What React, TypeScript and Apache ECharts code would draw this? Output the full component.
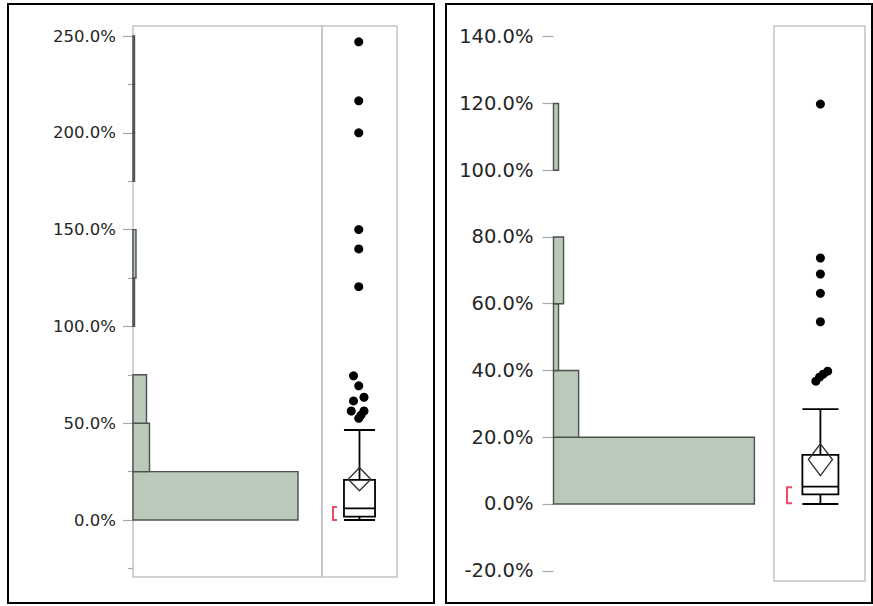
import React, { useEffect, useRef } from 'react';
import * as echarts from 'echarts';

// ---------- data ----------
const LEFT_BIN_EDGES = [0, 25, 50, 75, 100, 125, 150, 175, 200, 225, 250];
const LEFT_COUNTS = [110, 11, 9, 0, 1, 2, 0, 1, 1, 1];
const LEFT_TICKS = [0, 50, 100, 150, 200, 250];
const LEFT_MINOR_TICKS = [-25, 25, 75, 125, 175, 225];
// lower whisker, Q1, median, Q3, upper whisker
const LEFT_QUANTILES = [0, 1.7, 6.0, 20.7, 46.5];
// mean CI low, mean, mean CI high
const LEFT_MEAN_CI = [15.1, 21.1, 27.1];
const LEFT_SHORTEST_HALF = [0, 6.7];
const LEFT_OUTLIERS = [247, 216.5, 200, 150, 140, 120.5, 74.5, 69.3, 63.4, 61.5, 56.3, 56.3, 54.2, 52.5];
const LEFT_JITTER = [0.49, 0.49, 0.49, 0.49, 0.49, 0.49, 0.42, 0.49, 0.56, 0.42, 0.39, 0.56, 0.52, 0.49];

const RIGHT_BIN_EDGES = [0, 20, 40, 60, 80, 100, 120, 140];
const RIGHT_COUNTS = [40, 5, 1, 2, 0, 1, 0];
const RIGHT_TICKS = [-20, 0, 20, 40, 60, 80, 100, 120, 140];
const RIGHT_QUANTILES = [0, 2.9, 5.2, 14.7, 28.4];
const RIGHT_MEAN_CI = [8.5, 13.3, 18.0];
const RIGHT_SHORTEST_HALF = [0.2, 5.0];
const RIGHT_OUTLIERS = [119.8, 73.7, 68.9, 63.1, 54.6, 39.8, 38.9, 38.0, 36.8];
const RIGHT_JITTER = [0.51, 0.51, 0.51, 0.51, 0.51, 0.59, 0.54, 0.5, 0.46];

// ---------- styling constants ----------
const FONT = 'DejaVu Sans';
const LABEL_COLOR = '#262626';
const TICK_COLOR = '#a8a8a8';
const FRAME_GREY = '#c4c4c4';
const BAR_FILL = '#b9c9ba';
const BAR_STROKE = '#4a524b';
const BRACKET_RED = '#ef4a63';

const LEFT_RANGE = [-29.44, 255.17];
const RIGHT_RANGE = [-23.07, 143.2];

const binsData = (edges: number[], counts: number[]) =>
  counts.map((c, i) => [edges[i], edges[i + 1], c]);

const histRender = (_params: any, api: any) => {
  const lo = api.value(0);
  const hi = api.value(1);
  const c = api.value(2);
  if (!c) return { type: 'group', children: [] };
  const a = api.coord([0, lo]);
  const b = api.coord([c, hi]);
  return {
    type: 'rect',
    shape: { x: a[0], y: b[1], width: b[0] - a[0], height: a[1] - b[1] },
    style: { fill: BAR_FILL, stroke: BAR_STROKE, lineWidth: 1.4 },
  };
};

const makeBoxRender = (center: number, half: number, dHalf: number, bracketX: number, bracketW: number) =>
  (_params: any, api: any) => {
    const lw = api.value(0), q1 = api.value(1), med = api.value(2), q3 = api.value(3), hw = api.value(4);
    const mLo = api.value(5), mean = api.value(6), mHi = api.value(7);
    const sLo = api.value(8), sHi = api.value(9);
    const c = (x: number, y: number) => api.coord([x, y]);
    const boxTL = c(center - half, q3);
    const boxBR = c(center + half, q1);
    const black = { stroke: '#000', lineWidth: 1.8, fill: 'none' };
    const hline = (y: number) => {
      const p0 = c(center - half, y);
      const p1 = c(center + half, y);
      return { type: 'line', shape: { x1: p0[0], y1: p0[1], x2: p1[0], y2: p1[1] }, style: black };
    };
    const vline = (y0: number, y1: number) => {
      const p0 = c(center, y0);
      const p1 = c(center, y1);
      return { type: 'line', shape: { x1: p0[0], y1: p0[1], x2: p1[0], y2: p1[1] }, style: black };
    };
    const bLo = c(bracketX, sLo);
    const bHi = c(bracketX, sHi);
    return {
      type: 'group',
      children: [
        vline(q3, hw),
        vline(q1, lw),
        hline(hw),
        hline(lw),
        {
          type: 'rect',
          shape: { x: boxTL[0], y: boxTL[1], width: boxBR[0] - boxTL[0], height: boxBR[1] - boxTL[1] },
          style: black,
        },
        hline(med),
        {
          type: 'polygon',
          shape: {
            points: [c(center, mHi), c(center + dHalf, mean), c(center, mLo), c(center - dHalf, mean)],
          },
          style: { stroke: '#333', lineWidth: 1.4, fill: 'none' },
        },
        {
          type: 'polyline',
          shape: {
            points: [
              [bLo[0] + bracketW, bLo[1]],
              [bLo[0], bLo[1]],
              [bHi[0], bHi[1]],
              [bHi[0] + bracketW, bHi[1]],
            ],
          },
          style: { stroke: BRACKET_RED, lineWidth: 2, fill: 'none' },
        },
      ],
    };
  };

const labelAxis = (gridIndex: number, range: number[], ticks: number[], tickLen: number, margin: number, fontSize: number) => ({
  type: 'value',
  gridIndex,
  position: 'left',
  min: range[0],
  max: range[1],
  axisLine: { show: false },
  splitLine: { show: false },
  axisTick: { show: true, length: tickLen, customValues: ticks, lineStyle: { color: TICK_COLOR, width: 1.2 } },
  axisLabel: {
    show: true,
    customValues: ticks,
    margin,
    fontFamily: FONT,
    fontSize,
    color: LABEL_COLOR,
    formatter: (v: number) => v.toFixed(1) + '%',
  },
});

const hiddenY = (gridIndex: number, range: number[]) => ({
  type: 'value',
  gridIndex,
  min: range[0],
  max: range[1],
  show: false,
  splitLine: { show: false },
});

const hiddenX = (gridIndex: number, max: number) => ({
  type: 'value',
  gridIndex,
  min: 0,
  max,
  show: false,
  splitLine: { show: false },
});

export default function App() {
  const ref = useRef<HTMLDivElement>(null);
  useEffect(() => {
    if (!ref.current) return;
    const chart = echarts.init(ref.current, null, { renderer: 'svg' });
    const gridBase = { outerBoundsMode: 'none', containLabel: false };
    chart.setOption({
      animation: false,
      backgroundColor: '#ffffff',
      textStyle: { fontFamily: FONT },
      grid: [
        { ...gridBase, left: 133, top: 26, width: 189, height: 551, show: true, borderColor: FRAME_GREY, borderWidth: 1.5 },
        { ...gridBase, left: 322, top: 26, width: 75, height: 551, show: true, borderColor: FRAME_GREY, borderWidth: 1.5 },
        { ...gridBase, left: 553.5, top: 26, width: 220.5, height: 555, show: false },
        { ...gridBase, left: 774, top: 26, width: 91, height: 555, show: true, borderColor: FRAME_GREY, borderWidth: 1.5 },
      ],
      xAxis: [hiddenX(0, 126), hiddenX(1, 1), hiddenX(2, 43.9), hiddenX(3, 1)],
      yAxis: [
        labelAxis(0, LEFT_RANGE, LEFT_TICKS, 10, 17, 16.5),
        {
          type: 'value',
          gridIndex: 0,
          position: 'left',
          offset: 0,
          min: LEFT_RANGE[0],
          max: LEFT_RANGE[1],
          axisLine: { show: false },
          splitLine: { show: false },
          axisLabel: { show: false },
          axisTick: { show: true, length: 5, customValues: LEFT_MINOR_TICKS, lineStyle: { color: TICK_COLOR, width: 1.2 } },
        },
        hiddenY(1, LEFT_RANGE),
        labelAxis(2, RIGHT_RANGE, RIGHT_TICKS, 11, 20, 19.5),
        hiddenY(3, RIGHT_RANGE),
      ],
      series: [
        {
          type: 'custom',
          xAxisIndex: 0,
          yAxisIndex: 0,
          silent: true,
          renderItem: histRender,
          encode: { x: 2, y: [0, 1] },
          data: binsData(LEFT_BIN_EDGES, LEFT_COUNTS),
        },
        {
          type: 'custom',
          xAxisIndex: 1,
          yAxisIndex: 2,
          silent: true,
          renderItem: makeBoxRender(0.5, 0.207, 0.15, 0.147, 4),
          data: [[...LEFT_QUANTILES, ...LEFT_MEAN_CI, ...LEFT_SHORTEST_HALF]],
        },
        {
          type: 'scatter',
          xAxisIndex: 1,
          yAxisIndex: 2,
          silent: true,
          symbol: 'circle',
          symbolSize: 9,
          itemStyle: { color: '#000', opacity: 1 },
          data: LEFT_OUTLIERS.map((v, i) => [LEFT_JITTER[i], v]),
        },
        {
          type: 'custom',
          xAxisIndex: 2,
          yAxisIndex: 3,
          silent: true,
          renderItem: histRender,
          encode: { x: 2, y: [0, 1] },
          data: binsData(RIGHT_BIN_EDGES, RIGHT_COUNTS),
        },
        {
          type: 'custom',
          xAxisIndex: 3,
          yAxisIndex: 4,
          silent: true,
          renderItem: makeBoxRender(0.51, 0.198, 0.132, 0.143, 5),
          data: [[...RIGHT_QUANTILES, ...RIGHT_MEAN_CI, ...RIGHT_SHORTEST_HALF]],
        },
        {
          type: 'scatter',
          xAxisIndex: 3,
          yAxisIndex: 4,
          silent: true,
          symbol: 'circle',
          symbolSize: 9,
          itemStyle: { color: '#000', opacity: 1 },
          data: RIGHT_OUTLIERS.map((v, i) => [RIGHT_JITTER[i], v]),
        },
      ],
      graphic: [
        {
          type: 'rect',
          silent: true,
          shape: { x: 8, y: 4, width: 426, height: 599 },
          style: { fill: 'none', stroke: '#000', lineWidth: 2 },
        },
        {
          type: 'rect',
          silent: true,
          shape: { x: 446, y: 4, width: 426, height: 599 },
          style: { fill: 'none', stroke: '#000', lineWidth: 2 },
        },
      ],
    });
    return () => chart.dispose();
  }, []);
  return <div ref={ref} style={{ position: 'absolute', left: 0, top: 0, width: 873, height: 606 }} />;
}
